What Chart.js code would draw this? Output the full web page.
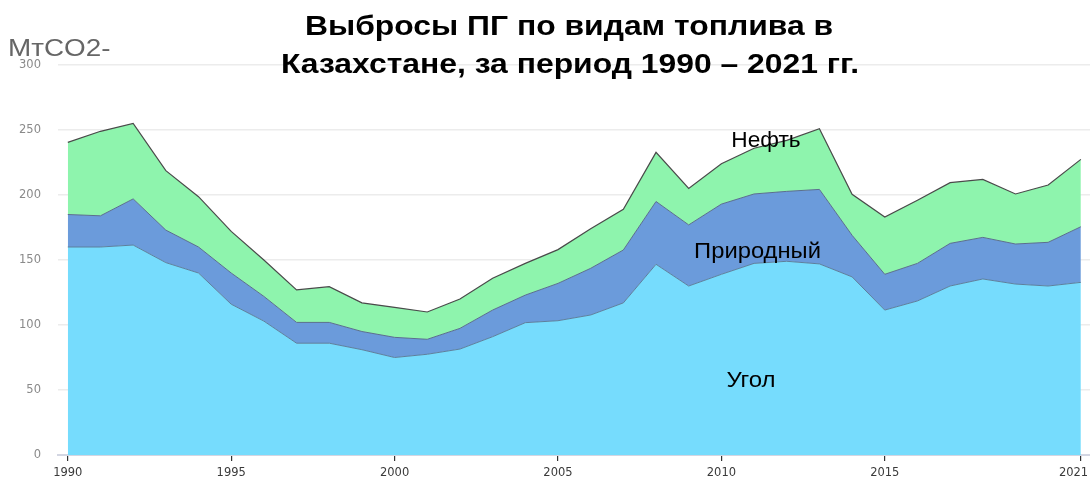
<!DOCTYPE html>
<html>
<head>
<meta charset="utf-8">
<script src="https://cdn.jsdelivr.net/npm/chart.js@4"></script>
<style>
html,body{margin:0;padding:0;background:#fff;}
#wrap{width:1090px;height:481px;position:relative;}
</style>
</head>
<body>
<div id="wrap"><canvas id="c" width="1090" height="481"></canvas></div>
<script>
const years = [1990,1991,1992,1993,1994,1995,1996,1997,1998,1999,2000,2001,2002,2003,2004,2005,2006,2007,2008,2009,2010,2011,2012,2013,2014,2015,2016,2017,2018,2019,2020,2021];
const coal = [160,160,161.5,148,140,116,103,86,86,81,75,77.5,81.5,91,101.8,103.3,107.7,117,146.7,130,139,147.4,149,147,137,111.5,118.5,130,135.4,131.5,130,132.8];
const gas = [25,24,35.5,25,20,24,19,16,16,14,15.5,11.5,15.9,20.5,21.2,28.7,35.9,40.7,48.3,47,54,53.4,53.8,57.3,32,27.5,28.9,32.8,32,30.8,33.6,42.8];
const oil = [55.5,65,58,45.7,38.7,32,28,25,27.5,22,23.1,21,22.6,24.5,24.4,26,30.4,31.3,37.8,28,31,35.2,39.2,46.7,31.5,44,48.6,46.7,44.6,38.5,44.1,51.8];
const xTicks = [1990,1995,2000,2005,2010,2015,2021];
const yTicks = [0,50,100,150,200,250,300];
const seriesNames = ['Угол','Природный','Нефть'];
const titleLines = ['Выбросы ПГ по видам топлива в','Казахстане, за период 1990 – 2021 гг.'];
const unitLabel = 'МтCO2-';

const toXY = arr => arr.map((v,i)=>({x:years[i], y:v}));

function stretchedText(ctx, text, cx, y, sx, align){
  ctx.save();
  ctx.translate(cx, y);
  ctx.scale(sx, 1);
  ctx.textAlign = align;
  ctx.fillText(text, 0, 0);
  ctx.restore();
}

const textPlugin = {
  id:'texts',
  afterDraw(chart){
    const ctx = chart.ctx;
    ctx.save();
    ctx.textBaseline = 'alphabetic';
    ctx.fillStyle = '#000';
    ctx.font = 'bold 27px "Liberation Sans", Arial, sans-serif';
    stretchedText(ctx, titleLines[0], 569, 35, 1.18, 'center');
    stretchedText(ctx, titleLines[1], 570, 73, 1.18, 'center');
    ctx.fillStyle = '#666';
    ctx.font = '24px "Liberation Sans", Arial, sans-serif';
    stretchedText(ctx, unitLabel, 8, 56, 1.16, 'left');
    ctx.fillStyle = '#000';
    ctx.font = '22px "Liberation Sans", Arial, sans-serif';
    stretchedText(ctx, seriesNames[2], 766, 147, 1.03, 'center');
    stretchedText(ctx, seriesNames[1], 757.5, 258, 1.08, 'center');
    stretchedText(ctx, seriesNames[0], 751, 387, 1.09, 'center');
    ctx.restore();
  }
};

new Chart(document.getElementById('c'), {
  type:'line',
  data:{
    datasets:[
      {label:seriesNames[0], data:toXY(coal), fill:'origin', backgroundColor:'#76dcfd', borderColor:'#5c7f9c', borderWidth:1, pointRadius:0, tension:0},
      {label:seriesNames[1], data:toXY(gas), fill:'-1', backgroundColor:'#6b9bdb', borderColor:'#5a6f8c', borderWidth:1, pointRadius:0, tension:0},
      {label:seriesNames[2], data:toXY(oil), fill:'-1', backgroundColor:'#8ef4ad', borderColor:'#4a4a4a', borderWidth:1.2, pointRadius:0, tension:0}
    ]
  },
  options:{
    responsive:false,
    animation:false,
    events:[],
    layout:{padding:{top:65,right:0,left:0,bottom:0}},
    plugins:{legend:{display:false}, title:{display:false}, tooltip:{enabled:false}},
    scales:{
      x:{
        type:'linear', min:1989.7, max:2021.28,
        afterBuildTicks(s){ s.ticks = xTicks.map(v=>({value:v})); },
        afterFit(s){ s.height = 26; s.paddingLeft = 0; s.paddingRight = 0; },
        grid:{drawOnChartArea:false, drawTicks:true, tickLength:6, color:'#333', lineWidth:1.2},
        border:{display:true, color:'#d3d6e2', width:2},
        ticks:{autoSkip:false, maxRotation:0, padding:5, color:'#3a3a3a', font:{family:'"DejaVu Sans", sans-serif', size:11.5},
          callback:(v,i,arr)=> i === arr.length-1 ? String(v) + '\u2007\u2007' : String(v)}
      },
      y:{
        stacked:true, min:0, max:300,
        afterBuildTicks(s){ s.ticks = yTicks.map(v=>({value:v})); },
        afterFit(s){ s.width = 58; },
        grid:{color:'#ececec', lineWidth:1.5, drawTicks:false},
        border:{display:false},
        ticks:{padding:17, color:'#8a8a8a', font:{family:'"DejaVu Sans", sans-serif', size:11.5}}
      }
    }
  },
  plugins:[textPlugin]
});
</script>
</body>
</html>
